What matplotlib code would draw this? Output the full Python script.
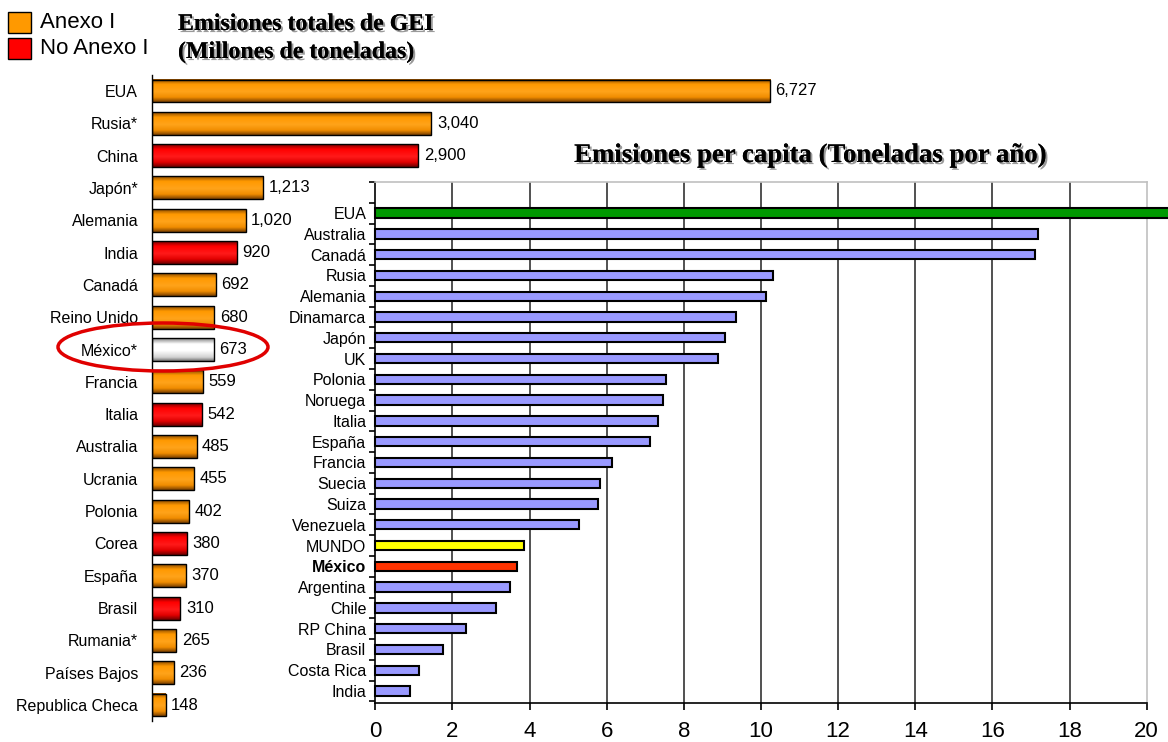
import numpy as np
import matplotlib
matplotlib.use("Agg")
import matplotlib.pyplot as plt
from matplotlib.colors import LinearSegmentedColormap
from matplotlib.patches import Rectangle, Ellipse
import matplotlib.patheffects as pe

plt.rcParams['font.family'] = ['Liberation Sans', 'DejaVu Sans']

# ---- data: total emissions ----
tot_countries = ["EUA", "Rusia*", "China", "Japón*", "Alemania", "India", "Canadá",
                 "Reino Unido", "México*", "Francia", "Italia", "Australia", "Ucrania",
                 "Polonia", "Corea", "España", "Brasil", "Rumania*", "Países Bajos",
                 "Republica Checa"]
tot_values = [6727, 3040, 2900, 1213, 1020, 920, 692, 680, 673, 559, 542, 485, 455,
              402, 380, 370, 310, 265, 236, 148]
tot_group = ["A", "A", "N", "A", "A", "N", "A", "A", "M", "A", "N", "A", "A",
             "A", "N", "A", "N", "A", "A", "A"]

# ---- data: per capita emissions ----
pc_countries = ["EUA", "Australia", "Canadá", "Rusia", "Alemania", "Dinamarca", "Japón",
                "UK", "Polonia", "Noruega", "Italia", "España", "Francia", "Suecia",
                "Suiza", "Venezuela", "MUNDO", "México", "Argentina", "Chile", "RP China",
                "Brasil", "Costa Rica", "India"]
pc_values = [20.6, 17.17, 17.10, 10.30, 10.13, 9.35, 9.07, 8.88, 7.54, 7.46, 7.33, 7.12,
             6.14, 5.83, 5.78, 5.29, 3.86, 3.68, 3.49, 3.13, 2.36, 1.76, 1.14, 0.90]
pc_xticks = [0, 2, 4, 6, 8, 10, 12, 14, 16, 18, 20]

W, H = 1168, 742
fig = plt.figure(figsize=(W / 100, H / 100), dpi=100)

def fx(px):
    return px / W

def fy(py):
    return 1 - py / H

grad_maps = {
    "A": LinearSegmentedColormap.from_list("a", [(0, "#8a4a00"), (0.22, "#ff9900"), (0.55, "#ffa31a"), (0.8, "#f08c00"), (1, "#7a4000")]),
    "N": LinearSegmentedColormap.from_list("n", [(0, "#7a0000"), (0.22, "#ff0000"), (0.55, "#ff1a1a"), (0.8, "#e00000"), (1, "#6a0000")]),
    "M": LinearSegmentedColormap.from_list("m", [(0, "#808080"), (0.25, "#ffffff"), (0.55, "#ffffff"), (0.85, "#d0d0d0"), (1, "#707070")]),
}

# ---- left axes: total emissions ----
spacing = 32.32
top_px = 91 - spacing / 2
bot_px = 705 + spacing / 2
axL = fig.add_axes([fx(152), fy(bot_px), fx(735), (bot_px - top_px) / H])
n = len(tot_countries)
h = 0.71
grad = np.linspace(0, 1, 64).reshape(-1, 1)
for i, (v, g) in enumerate(zip(tot_values, tot_group)):
    axL.imshow(grad, extent=[0, v, i + h / 2, i - h / 2], cmap=grad_maps[g],
               aspect="auto", interpolation="bilinear", zorder=2)
    axL.add_patch(Rectangle((0, i - h / 2), v, h, fill=False, ec="black", lw=1.0, zorder=3))
    axL.text(v + 60, i, f"{v:,}", va="center", ha="left", fontsize=12, zorder=4)
axL.set_xlim(0, 8000)
axL.set_ylim(n - 0.5, -0.5)
axL.set_yticks(range(n))
axL.set_yticklabels(tot_countries, fontsize=11.5)
axL.tick_params(axis="y", length=0, pad=10)
axL.set_xticks([])
for s in ["top", "right", "bottom"]:
    axL.spines[s].set_visible(False)
axL.spines["left"].set_color("black")
axL.spines["left"].set_linewidth(1.0)
axL.patch.set_alpha(0)

# ---- right axes: per capita ----
sp2 = (691 - 213) / 23
top2 = 182
bot2 = 703
axR = fig.add_axes([fx(375.3), fy(bot2), fx(1146.7 - 375.3), (bot2 - top2) / H], zorder=5)
axR.set_facecolor("white")
m = len(pc_countries)
pc_colors = ["#009900"] + ["#9999ff"] * (m - 1)
pc_colors[pc_countries.index("MUNDO")] = "#ffff00"
pc_colors[pc_countries.index("México")] = "#ff3300"
for x in pc_xticks[1:-1]:
    axR.axvline(x, color="#333333", lw=1.2, zorder=1)
axR.barh(range(m), pc_values, height=0.45, color=pc_colors, edgecolor="black",
         linewidth=1.5, zorder=3, clip_on=False)
axR.set_xlim(0, 20)
ylo = -0.5 - (213 - top2) / sp2 + 0.5
yhi = (bot2 - 691) / sp2
axR.set_ylim(m - 1 + yhi, ylo)
axR.set_yticks(range(m))
axR.set_yticklabels(pc_countries, fontsize=11.5)
for lbl in axR.get_yticklabels():
    if lbl.get_text() == "México":
        lbl.set_fontweight("bold")
axR.set_yticks(np.arange(-1.5, m, 1.0), minor=True)
axR.tick_params(axis="y", which="major", length=0, pad=6.5)
axR.tick_params(axis="y", which="minor", length=4, direction="out", width=1.2)
axR.set_xticks(pc_xticks)
axR.set_xticklabels([str(t) for t in pc_xticks], fontsize=16)
axR.tick_params(axis="x", length=5, width=1.2, direction="out", pad=8)
axR.spines["top"].set_color("#c0c0c0")
axR.spines["right"].set_color("#c0c0c0")
axR.spines["top"].set_linewidth(1.2)
axR.spines["right"].set_linewidth(1.2)
axR.spines["left"].set_color("black")
axR.spines["bottom"].set_color("black")
axR.spines["left"].set_linewidth(1.2)
axR.spines["bottom"].set_linewidth(1.2)

# ---- titles ----
shadow = [pe.withSimplePatchShadow(offset=(1.5, -1.5), shadow_rgbFace="#9a9a9a", alpha=1.0), pe.Normal()]
fig.text(fx(178), fy(30), "Emisiones totales de GEI", fontsize=17.2, fontweight="bold",
         family="Liberation Serif", ha="left", va="baseline", path_effects=shadow)
fig.text(fx(178), fy(58), "(Millones de toneladas)", fontsize=17.2, fontweight="bold",
         family="Liberation Serif", ha="left", va="baseline", path_effects=shadow)
fig.text(fx(810), fy(162), "Emisiones per capita (Toneladas por año)", fontsize=19.3,
         fontweight="bold", family="Liberation Serif", ha="center", va="baseline",
         path_effects=shadow, zorder=10)

# ---- legend ----
fig.add_artist(Rectangle((fx(8), fy(33)), fx(23), 21 / H, transform=fig.transFigure,
                         fc="#ff9900", ec="black", lw=1.0))
fig.add_artist(Rectangle((fx(8), fy(59)), fx(23), 21 / H, transform=fig.transFigure,
                         fc="#ff0000", ec="black", lw=1.0))
fig.text(fx(40), fy(22), "Anexo I", fontsize=16, va="center", ha="left")
fig.text(fx(40), fy(48), "No Anexo I", fontsize=16, va="center", ha="left")

# ---- highlight ellipse ----
fig.add_artist(Ellipse((fx(163), fy(347)), fx(210), 48 / H, transform=fig.transFigure,
                       fill=False, ec="#e00000", lw=2.5, zorder=20))

fig.savefig("out.png", dpi=100)
